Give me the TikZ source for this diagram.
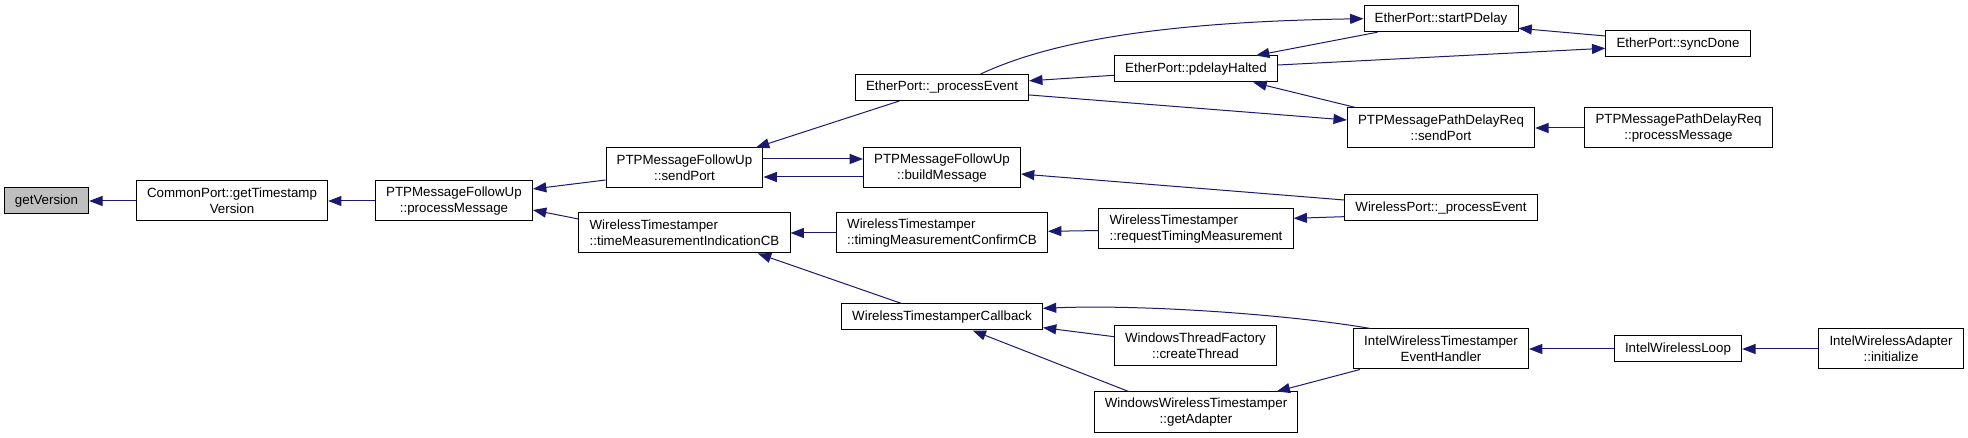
\documentclass[tikz,border=0pt]{standalone}
\usepackage{fontspec}
\setmainfont{Liberation Sans}
\usetikzlibrary{arrows.meta}
\definecolor{edgeblue}{HTML}{191970}
\definecolor{selgray}{HTML}{BFBFBF}
\tikzset{
  fn/.style={draw=black,line width=0.75pt,fill=white,font=\fontsize{10}{12}\selectfont,
    inner xsep=8pt,inner ysep=0pt,minimum height=19.5pt,align=center},
  two/.style={minimum height=30pt},
  lft/.style={align=left},
  call/.style={draw=edgeblue,line width=0.75pt,-{Triangle[length=10pt,width=7.5pt]}}
}

\begin{document}
\begin{tikzpicture}[x=0.75pt,y=-0.75pt]
\useasboundingbox (0,0) rectangle (1968,438);
% functions, one column per call depth
\node[fn,fill=selgray] (gv) at (46.5,201) {getVersion};
\node[fn,two] (cp) at (232,201) {CommonPort::getTimestamp\\Version};
\node[fn,two] (pm) at (454,201) {PTPMessageFollowUp\\::processMessage};
\node[fn,two] (sp) at (684.5,168) {PTPMessageFollowUp\\::sendPort};
\node[fn,two,lft] (ti) at (684.5,233) {WirelessTimestamper\\::timeMeasurementIndicationCB};
\node[fn] (pe) at (942,87.5) {EtherPort::\_processEvent};
\node[fn,two] (bm) at (942,168) {PTPMessageFollowUp\\::buildMessage};
\node[fn,two,lft] (tc) at (942,233) {WirelessTimestamper\\::timingMeasurementConfirmCB};
\node[fn] (cb) at (942,317) {WirelessTimestamperCallback};
\node[fn] (ph) at (1196,69) {EtherPort::pdelayHalted};
\node[fn,two,lft] (rt) at (1196,229) {WirelessTimestamper\\::requestTimingMeasurement};
\node[fn,two] (ct) at (1195.5,346) {WindowsThreadFactory\\::createThread};
\node[fn,two] (ga) at (1196,412) {WindowsWirelessTimestamper\\::getAdapter};
\node[fn] (sd) at (1441,18.7) {EtherPort::startPDelay};
\node[fn,two] (ds) at (1441,128) {PTPMessagePathDelayReq\\::sendPort};
\node[fn] (wp) at (1441,208) {WirelessPort::\_processEvent};
\node[fn,two] (eh) at (1441,349) {IntelWirelessTimestamper\\EventHandler};
\node[fn] (sy) at (1678,44) {EtherPort::syncDone};
\node[fn,two] (dm) at (1678.5,128) {PTPMessagePathDelayReq\\::processMessage};
\node[fn] (il) at (1678,349) {IntelWirelessLoop};
\node[fn,two] (ia) at (1891,349) {IntelWirelessAdapter\\::initialize};
% calls, caller -> callee
\draw[call] (cp) -- (gv);
\draw[call] (pm) -- (cp);
\draw[call] ([yshift=-9pt]sp.west) -- ([yshift=9pt]pm.east);
\draw[call] ([yshift=10.5pt]ti.west) -- ([yshift=-6.75pt]pm.east);
\draw[call] ([xshift=-32pt]pe.south) -- ([xshift=53.6pt]sp.north);
\draw[call] ([yshift=6.75pt]sp.east) -- ([yshift=6.75pt]bm.west);
\draw[call] ([yshift=-6.75pt]bm.west) -- ([yshift=-6.75pt]sp.east);
\draw[call] (tc) -- (ti);
\draw[call] ([xshift=-30.3pt]cb.north) -- ([xshift=55pt]ti.south);
\draw[call] ([yshift=-4.7pt]ph.west) -- ([yshift=5pt]pe.east);
\draw[call] ([xshift=29pt]pe.north) .. controls (1045,44) and (1150,22) .. (sd.west);
\draw[call] ([yshift=-5.6pt]pe.east) -- ([yshift=6pt]ds.west);
\draw[call] ([yshift=6pt]wp.west) -- ([yshift=-4.5pt]bm.east);
\draw[call] (rt) -- (tc);
\draw[call] ([yshift=7pt]ct.west) -- ([yshift=-8pt]cb.east);
\draw[call] ([xshift=-50.5pt]ga.north) -- ([xshift=23pt]cb.south);
\draw[call] ([xshift=-53pt]eh.north) .. controls (1300,316) and (1150,304) .. ([yshift=6.5pt]cb.east);
\draw[call] ([xshift=-47.6pt]sd.south) -- ([xshift=45pt]ph.north);
\draw[call] ([yshift=3pt]ph.east) -- ([yshift=-3.2pt]sy.west);
\draw[call] ([xshift=-64pt]ds.north) -- ([xshift=43pt]ph.south);
\draw[call] ([yshift=-6.5pt]wp.west) -- ([yshift=8pt]rt.east);
\draw[call] ([xshift=-60.8pt]eh.south) -- ([xshift=60.5pt]ga.north);
\draw[call] ([yshift=6pt]sy.west) -- ([yshift=-7.2pt]sd.east);
\draw[call] (dm) -- (ds);
\draw[call] (il) -- (eh);
\draw[call] (ia) -- (il);
\end{tikzpicture}
\end{document}
